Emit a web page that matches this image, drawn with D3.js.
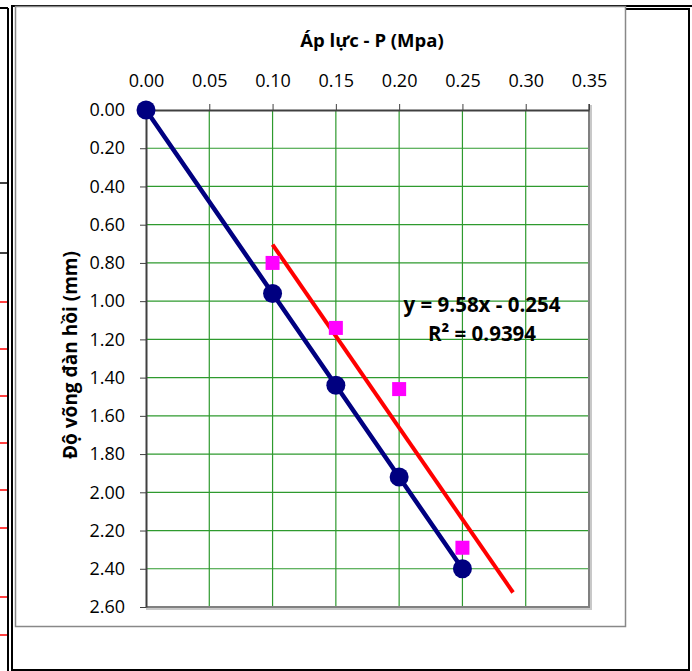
<!DOCTYPE html>
<html>
<head>
<meta charset="utf-8">
<script src="https://cdn.jsdelivr.net/npm/d3@7"></script>
<style>
    body { margin: 0; background: #fff; }
    text { font-family: "Open Sans", sans-serif; }
</style>
</head>
<body>
<div id="canvas"></div>
<script>
"use strict"

// data
let pressure = [0, 0.10, 0.15, 0.20, 0.25];
let deflection = [0, 0.96, 1.44, 1.92, 2.40];
let measuredP = [0.10, 0.15, 0.20, 0.25];
let measuredD = [0.80, 1.14, 1.46, 2.29];
let trendCoef = [9.58, -0.254];      // slope, intercept
let trendRange = [0.10, 0.29];
let xTicks = [0, 0.05, 0.10, 0.15, 0.20, 0.25, 0.30, 0.35];
let yTicks = [0, 0.2, 0.4, 0.6, 0.8, 1.0, 1.2, 1.4, 1.6, 1.8, 2.0, 2.2, 2.4, 2.6];

let drawing = d3.select("#canvas")
    .append("svg")
    .attr("width", 692)
    .attr("height", 671);

/* spreadsheet cell borders around the chart */
let sheet = drawing.append("g");
sheet.append("line").attr("x1", 12).attr("y1", 6).attr("x2", 692).attr("y2", 6)
    .attr("stroke", "black").attr("stroke-width", 2);
sheet.append("line").attr("x1", 8).attr("y1", 8).attr("x2", 8).attr("y2", 671)
    .attr("stroke", "black").attr("stroke-width", 2);
sheet.append("line").attr("x1", 12).attr("y1", 5).attr("x2", 12).attr("y2", 671)
    .attr("stroke", "black").attr("stroke-width", 2);
sheet.append("line").attr("x1", 0).attr("y1", 8).attr("x2", 8).attr("y2", 8)
    .attr("stroke", "black").attr("stroke-width", 2);
sheet.append("path").attr("d", "M625,9 H689 V670")
    .attr("fill", "none").attr("stroke", "black").attr("stroke-width", 2);
sheet.append("line").attr("x1", 12).attr("y1", 670).attr("x2", 690).attr("y2", 670)
    .attr("stroke", "black").attr("stroke-width", 2);
[183, 253].forEach(yy => sheet.append("line")
    .attr("x1", 0).attr("y1", yy).attr("x2", 8).attr("y2", yy)
    .attr("stroke", "black").attr("stroke-width", 1.5));
[302, 349, 396, 443, 490, 528, 597, 635].forEach(yy => sheet.append("line")
    .attr("x1", 0).attr("y1", yy).attr("x2", 7).attr("y2", yy)
    .attr("stroke", "red").attr("stroke-width", 1.5));

// chart frame
drawing.append("rect")
    .attr("x", 15.5).attr("y", 6.5).attr("width", 610).attr("height", 620)
    .attr("fill", "white").attr("stroke", "#888").attr("stroke-width", 1.5);

/* plot area */
let plotLeft = 146, plotRight = 589, plotTop = 110, plotBottom = 607;

let x = d3.scaleLinear().domain([0, 0.35]).range([plotLeft, plotRight]);
let y = d3.scaleLinear().domain([0, 2.6]).range([plotTop, plotBottom]);

// green grid
drawing.append("g").selectAll("line").data(xTicks.slice(1, -1)).join("line")
    .attr("x1", d => x(d)).attr("x2", d => x(d)).attr("y1", plotTop).attr("y2", plotBottom)
    .attr("stroke", "#2e9a2e").attr("stroke-width", 1.2);
drawing.append("g").selectAll("line").data(yTicks.slice(1, -1)).join("line")
    .attr("y1", d => y(d)).attr("y2", d => y(d)).attr("x1", plotLeft).attr("x2", plotRight)
    .attr("stroke", "#2e9a2e").attr("stroke-width", 1.2);

// plot area right and bottom border (grey with shadow)
drawing.append("path")
    .attr("d", `M${plotRight + 2},${plotTop - 5} V${plotBottom + 2} H${plotLeft}`)
    .attr("fill", "none").attr("stroke", "#c8c8c8").attr("stroke-width", 2);
drawing.append("path")
    .attr("d", `M${plotRight},${plotTop - 6} V${plotBottom} H${plotLeft}`)
    .attr("fill", "none").attr("stroke", "#808080").attr("stroke-width", 2);

// axes
let xAxis = drawing.append("g")
    .attr("transform", `translate(0,${plotTop})`)
    .call(d3.axisTop(x).tickValues(xTicks).tickFormat(d3.format(".2f")).tickSize(6).tickSizeOuter(0));
let yAxis = drawing.append("g")
    .attr("transform", `translate(${plotLeft},0)`)
    .call(d3.axisLeft(y).tickValues(yTicks).tickFormat(d3.format(".2f")).tickSize(6).tickSizeOuter(0));

xAxis.select(".domain").attr("stroke", "#404040").attr("stroke-width", 2);
yAxis.select(".domain").attr("stroke", "#404040").attr("stroke-width", 2);
xAxis.selectAll(".tick line").attr("stroke", "#404040");
yAxis.selectAll(".tick line").attr("stroke", "#404040");
xAxis.selectAll(".tick text")
    .attr("font-family", "Open Sans").attr("font-size", 18).attr("fill", "black")
    .attr("y", -23);
yAxis.selectAll(".tick text")
    .attr("font-family", "Open Sans").attr("font-size", 18).attr("fill", "black")
    .attr("x", -21);

// axis titles
drawing.append("text")
    .attr("x", 372).attr("y", 47)
    .attr("text-anchor", "middle")
    .attr("font-weight", "bold").attr("font-size", 18.5)
    .text("Áp lực - P (Mpa)");
drawing.append("text")
    .attr("transform", "translate(76.5,355) rotate(-90)")
    .attr("text-anchor", "middle")
    .attr("font-weight", "bold").attr("font-size", 19)
    .text("Độ võng đàn hồi (mm)");

/* series */
let line = d3.line().x(d => x(d[0])).y(d => y(d[1]));

let calcPoints = d3.zip(pressure, deflection);
let measPoints = d3.zip(measuredP, measuredD);
let trendPoints = trendRange.map(p => [p, trendCoef[0] * p + trendCoef[1]]);

drawing.append("path")
    .attr("d", line(calcPoints))
    .attr("fill", "none").attr("stroke", "#000080").attr("stroke-width", 4.5);

drawing.append("path")
    .attr("d", line(trendPoints))
    .attr("fill", "none").attr("stroke", "red").attr("stroke-width", 4);

drawing.append("g").selectAll("rect").data(measPoints).join("rect")
    .attr("x", d => x(d[0]) - 7).attr("y", d => y(d[1]) - 7)
    .attr("width", 14).attr("height", 14)
    .attr("fill", "#ff00ff");

drawing.append("g").selectAll("circle").data(calcPoints).join("circle")
    .attr("cx", d => x(d[0])).attr("cy", d => y(d[1]))
    .attr("r", 9.5)
    .attr("fill", "#000080");

// trendline label
let eq = drawing.append("text")
    .attr("text-anchor", "middle")
    .attr("font-weight", "bold").attr("font-size", 20.5);
eq.append("tspan").attr("x", 482).attr("y", 312)
    .text(`y = ${trendCoef[0]}x - ${Math.abs(trendCoef[1])}`);
eq.append("tspan").attr("x", 482).attr("y", 341)
    .text("R² = 0.9394");
</script>
</body>
</html>
